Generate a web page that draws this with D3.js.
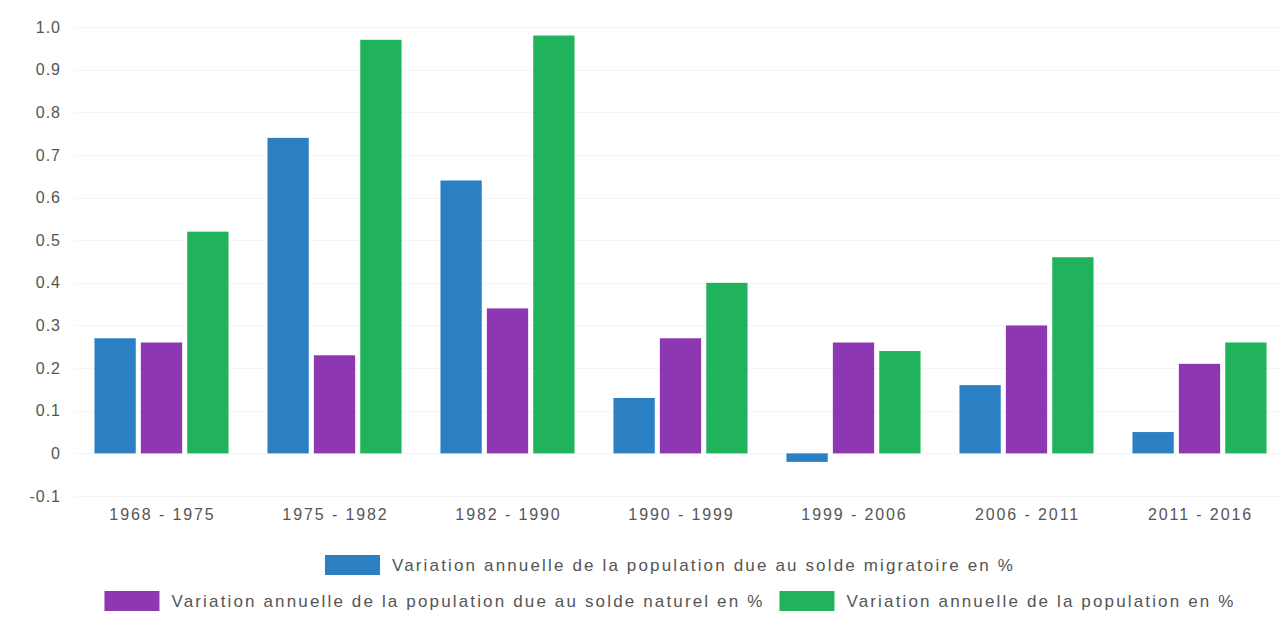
<!DOCTYPE html>
<html>
<head>
<meta charset="utf-8">
<script src="https://cdn.jsdelivr.net/npm/d3@7"></script>
<style>
    body { margin: 0; background: #fff; }
    svg text { font-family: "Liberation Sans", Arial, sans-serif; fill: #555; }
</style>
</head>
<body>
<svg id="chart"></svg>
<script>
const periods = ["1968 - 1975", "1975 - 1982", "1982 - 1990", "1990 - 1999", "1999 - 2006", "2006 - 2011", "2011 - 2016"];
const seriesNames = [
    "Variation annuelle de la population due au solde migratoire en %",
    "Variation annuelle de la population due au solde naturel en %",
    "Variation annuelle de la population en %"
];
const migratoire = [0.27, 0.74, 0.64, 0.13, -0.02, 0.16, 0.05];
const naturel = [0.26, 0.23, 0.34, 0.27, 0.26, 0.30, 0.21];
const total = [0.52, 0.97, 0.98, 0.40, 0.24, 0.46, 0.26];
const yTicks = [-0.1, 0, 0.1, 0.2, 0.3, 0.4, 0.5, 0.6, 0.7, 0.8, 0.9, 1.0];
const colors = ["#2b80c3", "#8e37b3", "#20b35b"];

const width = 1285, height = 618;
const values = [migratoire, naturel, total];

const svg = d3.select("#chart")
    .attr("width", width)
    .attr("height", height);

const x = d3.scaleBand()
    .domain(periods)
    .range([75, 1286])
    .paddingInner(0.225)
    .paddingOuter(0.1125);

const xInner = d3.scaleBand()
    .domain(d3.range(seriesNames.length))
    .range([0, x.bandwidth()])
    .paddingInner(0.11);

const y = d3.scaleLinear()
    .domain([-0.1, 1.0])
    .range([496, 27]);

// faint grid
svg.append("g")
    .selectAll("line")
    .data(yTicks)
    .join("line")
    .attr("x1", 75)
    .attr("x2", 1280)
    .attr("y1", d => Math.round(y(d)) + 0.5)
    .attr("y2", d => Math.round(y(d)) + 0.5)
    .attr("stroke", "#f5f5f5");

// y axis
const yAxis = d3.axisLeft(y)
    .tickValues(yTicks)
    .tickSize(0)
    .tickPadding(0)
    .tickFormat(d => d === 0 ? "0" : d.toFixed(1));

svg.append("g")
    .attr("transform", "translate(61,0)")
    .call(yAxis)
    .call(g => g.select(".domain").remove())
    .selectAll("text")
    .attr("font-size", 16)
    .style("letter-spacing", "1px")
    .style("font-family", "'Liberation Sans', Arial, sans-serif")
    .attr("fill", "#555");

// x axis labels
const xAxis = d3.axisBottom(x).tickSize(0).tickPadding(0);
svg.append("g")
    .attr("transform", "translate(1,509)")
    .call(xAxis)
    .call(g => g.select(".domain").remove())
    .selectAll("text")
    .attr("font-size", 16)
    .attr("dy", "0.71em")
    .style("letter-spacing", "1.9px")
    .style("font-family", "'Liberation Sans', Arial, sans-serif")
    .attr("fill", "#555");

// bars
const groups = svg.append("g")
    .selectAll("g")
    .data(periods)
    .join("g")
    .attr("transform", d => `translate(${x(d)},0)`);

groups.selectAll("rect")
    .data((d, i) => values.map((s, k) => ({k: k, v: s[i]})))
    .join("rect")
    .attr("x", d => xInner(d.k))
    .attr("width", xInner.bandwidth())
    .attr("y", d => y(Math.max(0, d.v)))
    .attr("height", d => Math.abs(y(d.v) - y(0)))
    .attr("fill", d => colors[d.k]);

// legend
const legendRows = [[0], [1, 2]];
const legendY = [565, 601];
const swatchW = 55, swatchH = 20, gap = 12, itemGap = 15;
const legendCenter = 670;

legendRows.forEach((row, r) => {
    const g = svg.append("g");
    let cursor = 0;
    row.forEach(k => {
        const item = g.append("g").attr("transform", `translate(${cursor},0)`);
        item.append("rect")
            .attr("x", 0)
            .attr("y", -swatchH / 2)
            .attr("width", swatchW)
            .attr("height", swatchH)
            .attr("fill", colors[k]);
        const t = item.append("text")
            .attr("x", swatchW + gap)
            .attr("dy", "0.35em")
            .attr("font-size", 17)
            .style("letter-spacing", "2.15px")
            .text(seriesNames[k]);
        cursor += swatchW + gap + t.node().getComputedTextLength() + itemGap;
    });
    const total = cursor - itemGap;
    g.attr("transform", `translate(${legendCenter - total / 2},${legendY[r]})`);
});
</script>
</body>
</html>
